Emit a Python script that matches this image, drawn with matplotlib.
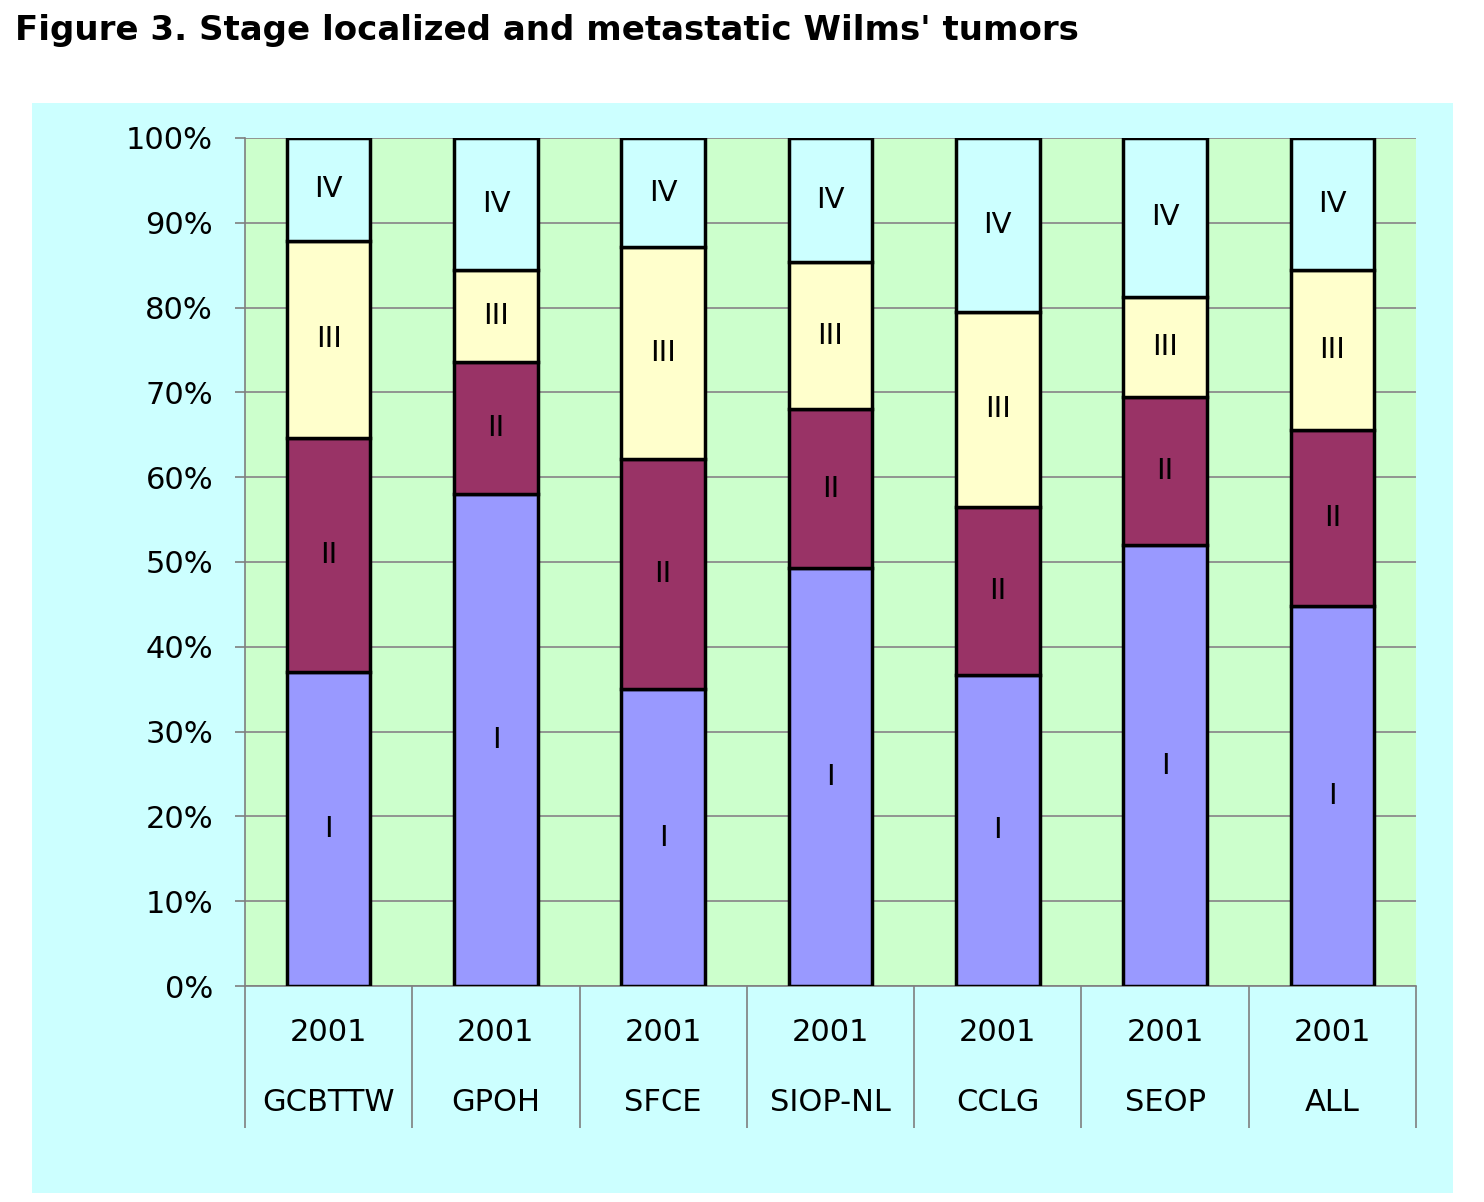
import matplotlib
matplotlib.use("Agg")
import numpy as np
import matplotlib.patches as patches
from matplotlib import pyplot as plt

# data (percent of each group)
groups = ['GCBTTW', 'GPOH', 'SFCE', 'SIOP-NL', 'CCLG', 'SEOP', 'ALL']
year = '2001'
stage_names = ['I', 'II', 'III', 'IV']
stage_1 = [37.0, 58.0, 35.0, 49.3, 36.7, 52.0, 44.8]
stage_2 = [27.6, 15.6, 27.1, 18.7, 19.8, 17.5, 20.8]
stage_3 = [23.3, 10.8, 25.0, 17.4, 23.0, 11.8, 18.8]
stage_4 = [12.1, 15.6, 12.9, 14.6, 20.5, 18.7, 15.6]
stage_colors = ['#9999FF', '#993366', '#FFFFCC', '#CCFFFF']

plt.rcParams['font.family'] = ['DejaVu Sans']

fig = plt.figure(figsize=(14.84, 12.02), dpi=100, facecolor='white')
# light cyan chart frame
fig.patches.append(patches.Rectangle((0.0216, 0.0075), 0.9575, 0.9068,
                                     transform=fig.transFigure, facecolor='#CCFFFF',
                                     edgecolor='none', zorder=-5))
fig.text(0.0101, 1 - 40 / 1202, "Figure 3. Stage localized and metastatic Wilms' tumors",
         fontsize=24.5, fontweight='bold', ha='left', va='baseline')

ax = fig.add_axes([0.1651, 0.1797, 0.7891, 0.7055])
ax.set_facecolor('#CCFFCC')

x = np.arange(len(groups))
bottom = np.zeros(len(groups))
for name, vals, col in zip(stage_names, [stage_1, stage_2, stage_3, stage_4], stage_colors):
  vals = np.array(vals)
  ax.bar(x, vals, 0.5, bottom=bottom, color=col, edgecolor='black', linewidth=2.5, zorder=3)
  for xi, b, v in zip(x, bottom, vals):
    ax.text(xi, b + v / 2, name, ha='center', va='center', fontsize=21, zorder=4)
  bottom = bottom + vals

ax.set_xlim(-0.5, len(groups) - 0.5)
ax.set_ylim(0, 100)
ax.set_yticks(np.arange(0, 101, 10))
ax.set_yticklabels([f'{v}%' for v in range(0, 101, 10)], fontsize=22)
ax.yaxis.grid(True, color='#8C8C8C', linewidth=1.3, zorder=1)
ax.tick_params(axis='y', length=7, width=1.2, color='#7F7F7F', pad=16)

ax.set_xticks(x)
ax.set_xticklabels([f'{year}\n{g}' for g in groups], fontsize=22)
for lbl in ax.get_xticklabels():
  lbl.set_linespacing(2.78)
ax.tick_params(axis='x', which='major', length=0, pad=23)
ax.set_xticks(np.arange(-0.5, len(groups)), minor=True)
ax.tick_params(axis='x', which='minor', length=102, width=1.2, color='#7F7F7F')

for side in ['top', 'right']:
  ax.spines[side].set_visible(False)
for side in ['left', 'bottom']:
  ax.spines[side].set_color('#7F7F7F')
  ax.spines[side].set_linewidth(1.2)

plt.savefig('out.png', dpi=100, facecolor='white')
